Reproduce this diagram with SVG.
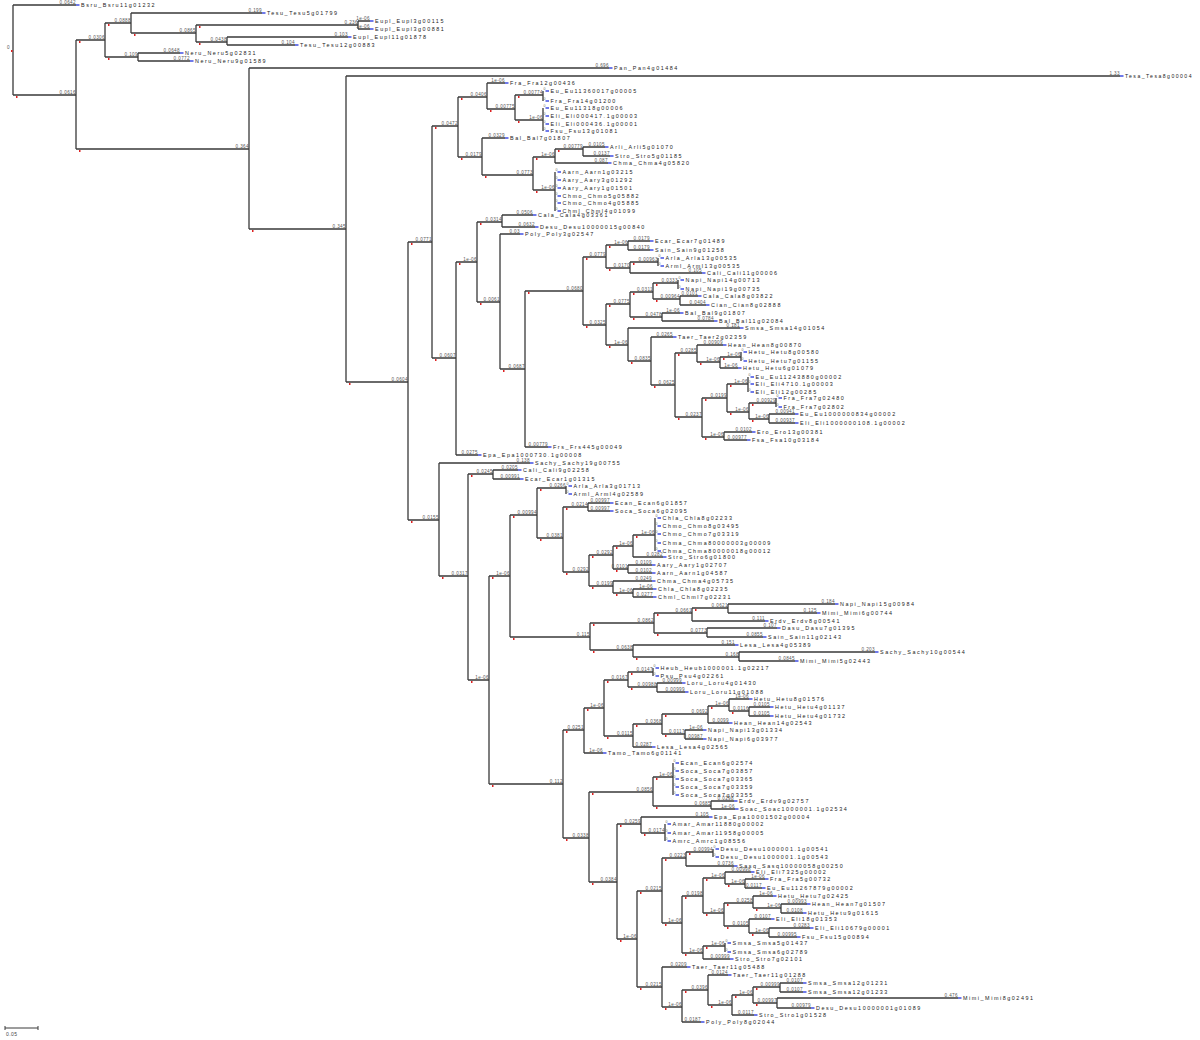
<svg xmlns="http://www.w3.org/2000/svg" xmlns:xlink="http://www.w3.org/1999/xlink" width="1200" height="1040" viewBox="0 0 1200 1040">
<style>
.bl{font-family:"Liberation Sans",Arial,sans-serif;font-size:4.6px;fill:#555;text-anchor:end;letter-spacing:.4px}
.lf{font-family:"Liberation Sans",Arial,sans-serif;font-size:5.4px;fill:#222;letter-spacing:1.55px}
.z{font-family:"Liberation Sans",Arial,sans-serif;font-size:3.5px;fill:#666}
.br{fill:none;stroke:#3a3a3a;stroke-width:1.3}
</style>
<defs>
<rect id="rm" width="1.5" height="2" fill="#d22"/>
<rect id="bm" width="3.5" height="1.3" fill="#2233dd"/>
</defs>
<rect width="1200" height="1040" fill="#fff"/>
<g id="connectors" class="br">
<path d="M13 5V95M13 5H76M13 95H76"/>
<path d="M76 40V149M76 40H105M76 149H249"/>
<path d="M105 23V57M105 23H131M105 57H138"/>
<path d="M131 13V33M131 13H262M131 33H196"/>
<path d="M196 25V42M196 25H358M196 42H227"/>
<path d="M358 21V29M358 21H370M358 29H370"/>
<path d="M227 37V45M227 37H348M227 45H295"/>
<path d="M138 53V61M138 53H180M138 61H190"/>
<path d="M249 68V229M249 68H609M249 229H346"/>
<path d="M346 76V382M346 76H1120M346 382H408"/>
<path d="M408 242V520M408 242H432M408 520H439"/>
<path d="M432 126V358M432 126H458M432 358H456"/>
<path d="M458 97V157M458 97H487M458 157H482"/>
<path d="M487 83V109M487 83H505M487 109H515"/>
<path d="M515 95V120M515 95H543M515 120H543"/>
<path d="M543 91V101M543 108V131"/>
<path d="M482 138V175M482 138H505M482 175H533"/>
<path d="M533 157V190M533 157H555M533 190H555"/>
<path d="M555 149V163M555 149H583M555 163H608"/>
<path d="M583 147V156M583 147H605M583 156H610"/>
<path d="M555 172V211"/>
<path d="M456 262V455M456 262H477M456 455H478"/>
<path d="M477 222V302M477 222H502M477 302H500"/>
<path d="M502 215V227M502 215H533M502 227H535"/>
<path d="M500 234V369M500 234H520M500 369H525"/>
<path d="M525 291V447M525 291H583M525 447H548"/>
<path d="M583 257V325M583 257H606M583 325H606"/>
<path d="M606 245V268M606 245H628M606 268H630"/>
<path d="M628 241V250M628 241H650M628 250H650"/>
<path d="M630 262V273M630 262H658M630 273H702"/>
<path d="M658 258V266"/>
<path d="M606 304V345M606 304H630M606 345H628"/>
<path d="M630 292V317M630 292H653M630 317H662"/>
<path d="M653 283V299M653 283H678M653 299H680"/>
<path d="M678 280V289"/>
<path d="M680 296V305M680 296H698M680 305H706"/>
<path d="M662 313V321M662 313H680M662 321H714"/>
<path d="M628 328V361M628 328H740M628 361H651"/>
<path d="M651 337V385M651 337H673M651 385H675"/>
<path d="M675 353V417M675 353H697M675 417H702"/>
<path d="M697 345V362M697 345H723M697 362H720"/>
<path d="M720 357V368M720 357H741M720 368H738"/>
<path d="M741 352V361"/>
<path d="M702 398V437M702 398H727M702 437H724"/>
<path d="M727 384V412M727 384H748M727 412H749"/>
<path d="M748 377V392"/>
<path d="M749 403V419M749 403H776M749 419H769"/>
<path d="M776 398V407"/>
<path d="M769 414V423M769 414H795M769 423H795"/>
<path d="M724 432V440M724 432H752M724 440H747"/>
<path d="M439 463V576M439 463H530M439 576H468"/>
<path d="M468 474V680M468 474H493M468 680H489"/>
<path d="M493 470V479M493 470H518M493 479H520"/>
<path d="M489 576V784M489 576H510M489 784H563"/>
<path d="M510 515V637M510 515H537M510 637H590"/>
<path d="M537 488V538M537 488H566M537 538H563"/>
<path d="M566 486V494"/>
<path d="M563 507V572M563 507H588M563 572H589"/>
<path d="M588 503V511M588 503H610M588 511H610"/>
<path d="M589 555V586M589 555H613M589 586H613"/>
<path d="M613 546V569M613 546H633M613 569H628"/>
<path d="M633 535V557M633 535H655M633 557H663"/>
<path d="M655 518V551"/>
<path d="M628 565V573M628 565H652M628 573H652"/>
<path d="M613 581V593M613 581H652M613 593H633"/>
<path d="M633 589V597M633 589H653M633 597H653"/>
<path d="M590 623V650M590 623H654M590 650H633"/>
<path d="M654 613V633M654 613H692M654 633H707"/>
<path d="M692 608V621M692 608H728M692 621H765"/>
<path d="M728 604V613M728 604H835M728 613H817"/>
<path d="M707 628V637M707 628H777M707 637H763"/>
<path d="M633 645V657M633 645H735M633 657H739"/>
<path d="M739 652V661M739 652H875M739 661H795"/>
<path d="M563 730V838M563 730H584M563 838H589"/>
<path d="M584 708V753M584 708H604M584 753H603"/>
<path d="M604 680V736M604 680H628M604 736H633"/>
<path d="M628 672V687M628 672H653M628 687H657"/>
<path d="M653 668V676"/>
<path d="M657 683V692M657 683H682M657 692H685"/>
<path d="M633 724V747M633 724H662M633 747H652"/>
<path d="M662 714V734M662 714H708M662 734H685"/>
<path d="M708 706V723M708 706H729M708 723H729"/>
<path d="M729 699V711M729 699H749M729 711H749"/>
<path d="M749 707V716M749 707H770M749 716H770"/>
<path d="M685 730V739M685 730H703M685 739H703"/>
<path d="M589 792V882M589 792H653M589 882H617"/>
<path d="M653 777V806M653 777H673M653 806H711"/>
<path d="M673 763V795"/>
<path d="M711 801V809M711 801H734M711 809H735"/>
<path d="M617 824V939M617 824H641M617 939H637"/>
<path d="M641 817V833M641 817H709M641 833H665"/>
<path d="M665 824V841"/>
<path d="M637 891V987M637 891H662M637 987H662"/>
<path d="M662 858V923M662 858H686M662 923H682"/>
<path d="M686 852V866M686 852H713M686 866H734"/>
<path d="M713 849V857"/>
<path d="M682 896V953M682 896H703M682 953H703"/>
<path d="M703 878V913M703 878H725M703 913H724"/>
<path d="M725 872V884M725 872H751M725 884H745"/>
<path d="M745 879V888M745 879H765M745 888H762"/>
<path d="M724 903V926M724 903H753M724 926H749"/>
<path d="M753 896V908M753 896H773M753 908H781"/>
<path d="M781 904V913M781 904H807M781 913H803"/>
<path d="M749 919V933M749 919H771M749 933H769"/>
<path d="M769 928V937M769 928H810M769 937H797"/>
<path d="M703 946V959M703 946H725M703 959H730"/>
<path d="M725 943V952"/>
<path d="M662 967V1007M662 967H687M662 1007H682"/>
<path d="M682 990V1022M682 990H708M682 1022H701"/>
<path d="M708 975V1005M708 975H728M708 1005H732"/>
<path d="M732 995V1015M732 995H753M732 1015H754"/>
<path d="M753 987V1003M753 987H780M753 1003H777"/>
<path d="M780 983V992M780 983H803M780 992H803"/>
<path d="M777 998V1008M777 998H958M777 1008H811"/>
</g>
<g id="root"><text class="bl" x="10" y="49">0</text><use href="#rm" x="11" y="50"/></g>
<g id="i76"><use href="#rm" x="16" y="96"/><text class="bl" x="76" y="94">0.0616</text></g>
<g id="i105"><use href="#rm" x="79" y="41"/><text class="bl" x="105" y="39">0.0306</text></g>
<g id="i249"><use href="#rm" x="79" y="150"/><text class="bl" x="249" y="148">0.364</text></g>
<g id="i131"><use href="#rm" x="108" y="24"/><text class="bl" x="131" y="22">0.0888</text></g>
<g id="i138"><use href="#rm" x="108" y="58"/><text class="bl" x="138" y="56">0.109</text></g>
<g id="i196"><use href="#rm" x="134" y="34"/><text class="bl" x="196" y="32">0.0865</text></g>
<g id="i358"><use href="#rm" x="199" y="26"/><text class="bl" x="358" y="24">0.236</text></g>
<g id="i227"><use href="#rm" x="199" y="43"/><text class="bl" x="227" y="41">0.0438</text></g>
<g id="i346"><use href="#rm" x="252" y="230"/><text class="bl" x="346" y="228">0.345</text></g>
<g id="i408"><use href="#rm" x="349" y="383"/><text class="bl" x="408" y="381">0.0604</text></g>
<g id="i432"><use href="#rm" x="411" y="243"/><text class="bl" x="432" y="241">0.0771</text></g>
<g id="i439"><use href="#rm" x="411" y="521"/><text class="bl" x="439" y="519">0.0155</text></g>
<g id="i458"><use href="#rm" x="435" y="127"/><text class="bl" x="458" y="125">0.0472</text></g>
<g id="i456"><use href="#rm" x="435" y="359"/><text class="bl" x="456" y="357">0.0607</text></g>
<g id="i487"><use href="#rm" x="461" y="98"/><text class="bl" x="487" y="96">0.0406</text></g>
<g id="i482"><use href="#rm" x="461" y="158"/><text class="bl" x="482" y="156">0.0179</text></g>
<g id="i515"><use href="#rm" x="490" y="110"/><text class="bl" x="515" y="108">0.00775</text></g>
<g id="i543a"><use href="#rm" x="518" y="96"/><text class="bl" x="543" y="94">0.00774</text></g>
<g id="i543b"><use href="#rm" x="518" y="121"/><text class="bl" x="543" y="119">1e-06</text></g>
<g id="i533"><use href="#rm" x="485" y="176"/><text class="bl" x="533" y="174">0.0773</text></g>
<g id="i555a"><use href="#rm" x="536" y="158"/><text class="bl" x="555" y="156">1e-06</text></g>
<g id="i555b"><use href="#rm" x="536" y="191"/><text class="bl" x="555" y="189">1e-06</text></g>
<g id="i583a"><use href="#rm" x="558" y="150"/><text class="bl" x="583" y="148">0.00779</text></g>
<g id="i477"><use href="#rm" x="459" y="263"/><text class="bl" x="477" y="261">1e-06</text></g>
<g id="i502"><use href="#rm" x="480" y="223"/><text class="bl" x="502" y="221">0.0314</text></g>
<g id="i500"><use href="#rm" x="480" y="303"/><text class="bl" x="500" y="301">0.0061</text></g>
<g id="i525"><use href="#rm" x="503" y="370"/><text class="bl" x="525" y="368">0.0687</text></g>
<g id="i583s"><use href="#rm" x="528" y="292"/><text class="bl" x="583" y="290">0.0680</text></g>
<g id="i606t"><use href="#rm" x="586" y="258"/><text class="bl" x="606" y="256">0.0779</text></g>
<g id="i606u"><use href="#rm" x="586" y="326"/><text class="bl" x="606" y="324">0.0325</text></g>
<g id="i628a"><use href="#rm" x="609" y="246"/><text class="bl" x="628" y="244">1e-06</text></g>
<g id="i630a"><use href="#rm" x="609" y="269"/><text class="bl" x="630" y="267">0.0170</text></g>
<g id="i658"><use href="#rm" x="633" y="263"/><text class="bl" x="658" y="261">0.00963</text></g>
<g id="i630v"><use href="#rm" x="609" y="305"/><text class="bl" x="630" y="303">0.0775</text></g>
<g id="i628x"><use href="#rm" x="609" y="346"/><text class="bl" x="628" y="344">1e-06</text></g>
<g id="i653w"><use href="#rm" x="633" y="293"/><text class="bl" x="653" y="291">0.0311</text></g>
<g id="i662a"><use href="#rm" x="633" y="318"/><text class="bl" x="662" y="316">0.0478</text></g>
<g id="i678"><use href="#rm" x="656" y="284"/><text class="bl" x="678" y="282">0.0333</text></g>
<g id="i680"><use href="#rm" x="656" y="300"/><text class="bl" x="680" y="298">0.00964</text></g>
<g id="i651y"><use href="#rm" x="631" y="362"/><text class="bl" x="651" y="360">0.0835</text></g>
<g id="i675z"><use href="#rm" x="654" y="386"/><text class="bl" x="675" y="384">0.0625</text></g>
<g id="i697"><use href="#rm" x="678" y="354"/><text class="bl" x="697" y="352">0.0285</text></g>
<g id="i702aa"><use href="#rm" x="678" y="418"/><text class="bl" x="702" y="416">0.0237</text></g>
<g id="i720"><use href="#rm" x="700" y="363"/><text class="bl" x="720" y="361">1e-06</text></g>
<g id="i741"><use href="#rm" x="723" y="358"/><text class="bl" x="741" y="356">1e-06</text></g>
<g id="i727ab"><use href="#rm" x="705" y="399"/><text class="bl" x="727" y="397">0.0199</text></g>
<g id="i724a"><use href="#rm" x="705" y="438"/><text class="bl" x="724" y="436">1e-06</text></g>
<g id="i748"><use href="#rm" x="730" y="385"/><text class="bl" x="748" y="383">1e-06</text></g>
<g id="i749ac"><use href="#rm" x="730" y="413"/><text class="bl" x="749" y="411">1e-06</text></g>
<g id="i776"><use href="#rm" x="752" y="404"/><text class="bl" x="776" y="402">0.00929</text></g>
<g id="i769a"><use href="#rm" x="752" y="420"/><text class="bl" x="769" y="418">1e-06</text></g>
<g id="i468p"><use href="#rm" x="442" y="577"/><text class="bl" x="468" y="575">0.0317</text></g>
<g id="i493"><use href="#rm" x="471" y="475"/><text class="bl" x="493" y="473">0.0245</text></g>
<g id="i489"><use href="#rm" x="471" y="681"/><text class="bl" x="489" y="679">1e-06</text></g>
<g id="i510"><use href="#rm" x="492" y="577"/><text class="bl" x="510" y="575">1e-06</text></g>
<g id="i563ai"><use href="#rm" x="492" y="785"/><text class="bl" x="563" y="783">0.112</text></g>
<g id="i537"><use href="#rm" x="513" y="516"/><text class="bl" x="537" y="514">0.00994</text></g>
<g id="i590"><use href="#rm" x="513" y="638"/><text class="bl" x="590" y="636">0.115</text></g>
<g id="i566"><use href="#rm" x="540" y="489"/><text class="bl" x="566" y="487">0.0266</text></g>
<g id="i563ad"><use href="#rm" x="540" y="539"/><text class="bl" x="563" y="537">0.0381</text></g>
<g id="i588"><use href="#rm" x="566" y="508"/><text class="bl" x="588" y="506">0.0214</text></g>
<g id="i589ae"><use href="#rm" x="566" y="573"/><text class="bl" x="589" y="571">0.0292</text></g>
<g id="i613af"><use href="#rm" x="592" y="556"/><text class="bl" x="613" y="554">0.0292</text></g>
<g id="i613b"><use href="#rm" x="592" y="587"/><text class="bl" x="613" y="585">0.0199</text></g>
<g id="i633a"><use href="#rm" x="616" y="547"/><text class="bl" x="633" y="545">1e-06</text></g>
<g id="i628b"><use href="#rm" x="616" y="570"/><text class="bl" x="628" y="568">0.0101</text></g>
<g id="i655"><use href="#rm" x="636" y="536"/><text class="bl" x="655" y="534">1e-06</text></g>
<g id="i633b"><use href="#rm" x="616" y="594"/><text class="bl" x="633" y="592">1e-06</text></g>
<g id="i654"><use href="#rm" x="593" y="624"/><text class="bl" x="654" y="622">0.0862</text></g>
<g id="i633ah"><use href="#rm" x="593" y="651"/><text class="bl" x="633" y="649">0.0638</text></g>
<g id="i692"><use href="#rm" x="657" y="614"/><text class="bl" x="692" y="612">0.0661</text></g>
<g id="i707"><use href="#rm" x="657" y="634"/><text class="bl" x="707" y="632">0.0773</text></g>
<g id="i728"><use href="#rm" x="695" y="609"/><text class="bl" x="728" y="607">0.0621</text></g>
<g id="i739"><use href="#rm" x="636" y="658"/><text class="bl" x="739" y="656">0.168</text></g>
<g id="i584"><use href="#rm" x="566" y="731"/><text class="bl" x="584" y="729">0.0251</text></g>
<g id="i589aq"><use href="#rm" x="566" y="839"/><text class="bl" x="589" y="837">0.0338</text></g>
<g id="i604"><use href="#rm" x="587" y="709"/><text class="bl" x="604" y="707">1e-06</text></g>
<g id="i628al"><use href="#rm" x="607" y="681"/><text class="bl" x="628" y="679">0.0167</text></g>
<g id="i633am"><use href="#rm" x="607" y="737"/><text class="bl" x="633" y="735">0.0115</text></g>
<g id="i653c"><use href="#rm" x="631" y="673"/><text class="bl" x="653" y="671">0.0147</text></g>
<g id="i657"><use href="#rm" x="631" y="688"/><text class="bl" x="657" y="686">0.00988</text></g>
<g id="i662an"><use href="#rm" x="636" y="725"/><text class="bl" x="662" y="723">0.0368</text></g>
<g id="i708"><use href="#rm" x="665" y="715"/><text class="bl" x="708" y="713">0.0692</text></g>
<g id="i685"><use href="#rm" x="665" y="735"/><text class="bl" x="685" y="733">0.0117</text></g>
<g id="i729"><use href="#rm" x="711" y="707"/><text class="bl" x="729" y="705">1e-06</text></g>
<g id="i749b"><use href="#rm" x="732" y="712"/><text class="bl" x="749" y="710">0.0116</text></g>
<g id="i653ar"><use href="#rm" x="592" y="793"/><text class="bl" x="653" y="791">0.0856</text></g>
<g id="i617"><use href="#rm" x="592" y="883"/><text class="bl" x="617" y="881">0.0384</text></g>
<g id="i673"><use href="#rm" x="656" y="778"/><text class="bl" x="673" y="776">1e-06</text></g>
<g id="i711"><use href="#rm" x="656" y="807"/><text class="bl" x="711" y="805">0.0685</text></g>
<g id="i641"><use href="#rm" x="620" y="825"/><text class="bl" x="641" y="823">0.0259</text></g>
<g id="i637"><use href="#rm" x="620" y="940"/><text class="bl" x="637" y="938">1e-06</text></g>
<g id="i665"><use href="#rm" x="644" y="834"/><text class="bl" x="665" y="832">0.0174</text></g>
<g id="i662av"><use href="#rm" x="640" y="892"/><text class="bl" x="662" y="890">0.0215</text></g>
<g id="i662bc"><use href="#rm" x="640" y="988"/><text class="bl" x="662" y="986">0.0215</text></g>
<g id="i686"><use href="#rm" x="665" y="859"/><text class="bl" x="686" y="857">0.0223</text></g>
<g id="i682aw"><use href="#rm" x="665" y="924"/><text class="bl" x="682" y="922">1e-06</text></g>
<g id="i713"><use href="#rm" x="689" y="853"/><text class="bl" x="713" y="851">0.00994</text></g>
<g id="i703ax"><use href="#rm" x="685" y="897"/><text class="bl" x="703" y="895">0.0198</text></g>
<g id="i703bb"><use href="#rm" x="685" y="954"/><text class="bl" x="703" y="952">1e-06</text></g>
<g id="i725a"><use href="#rm" x="706" y="879"/><text class="bl" x="725" y="877">1e-06</text></g>
<g id="i745"><use href="#rm" x="728" y="885"/><text class="bl" x="745" y="883">1e-06</text></g>
<g id="i724ay"><use href="#rm" x="706" y="914"/><text class="bl" x="724" y="912">1e-06</text></g>
<g id="i753az"><use href="#rm" x="727" y="904"/><text class="bl" x="753" y="902">0.0258</text></g>
<g id="i781"><use href="#rm" x="756" y="909"/><text class="bl" x="781" y="907">1e-06</text></g>
<g id="i749ba"><use href="#rm" x="727" y="927"/><text class="bl" x="749" y="925">0.0105</text></g>
<g id="i769b"><use href="#rm" x="752" y="934"/><text class="bl" x="769" y="932">1e-06</text></g>
<g id="i725b"><use href="#rm" x="706" y="947"/><text class="bl" x="725" y="945">1e-06</text></g>
<g id="i682bd"><use href="#rm" x="665" y="1008"/><text class="bl" x="682" y="1006">1e-06</text></g>
<g id="i708be"><use href="#rm" x="685" y="991"/><text class="bl" x="708" y="989">0.0396</text></g>
<g id="i732"><use href="#rm" x="711" y="1006"/><text class="bl" x="732" y="1004">1e-06</text></g>
<g id="i753bg"><use href="#rm" x="735" y="996"/><text class="bl" x="753" y="994">1e-06</text></g>
<g id="i780"><use href="#rm" x="756" y="988"/><text class="bl" x="780" y="986">0.00999</text></g>
<g id="i777"><use href="#rm" x="756" y="1004"/><text class="bl" x="777" y="1002">0.00997</text></g>
<g id="L1"><text class="bl" x="76" y="4">0.0642</text><use href="#bm" x="76" y="4.35"/><text class="lf" x="81" y="7">Bsru_Bsru11g01232</text></g>
<g id="L2"><text class="bl" x="262" y="12">0.199</text><use href="#bm" x="262" y="12.35"/><text class="lf" x="267" y="15">Tesu_Tesu5g01799</text></g>
<g id="L3"><text class="bl" x="370" y="20">1e-06</text><use href="#bm" x="370" y="20.35"/><text class="lf" x="375" y="23">Eupl_Eupl3g00115</text></g>
<g id="L4"><text class="bl" x="370" y="28">1e-06</text><use href="#bm" x="370" y="28.35"/><text class="lf" x="375" y="31">Eupl_Eupl3g00881</text></g>
<g id="L5"><text class="bl" x="348" y="36">0.103</text><use href="#bm" x="348" y="36.35"/><text class="lf" x="353" y="39">Eupl_Eupl11g01878</text></g>
<g id="L6"><text class="bl" x="295" y="44">0.104</text><use href="#bm" x="295" y="44.35"/><text class="lf" x="300" y="47">Tesu_Tesu12g00883</text></g>
<g id="L7"><text class="bl" x="180" y="52">0.0648</text><use href="#bm" x="180" y="52.35"/><text class="lf" x="185" y="55">Neru_Neru5g02831</text></g>
<g id="L8"><text class="bl" x="190" y="60">0.0772</text><use href="#bm" x="190" y="60.35"/><text class="lf" x="195" y="63">Neru_Neru9g01589</text></g>
<g id="L9"><text class="bl" x="609" y="67">0.696</text><use href="#bm" x="609" y="67.35"/><text class="lf" x="614" y="70">Pan_Pan4g01484</text></g>
<g id="L10"><text class="bl" x="1120" y="75">1.33</text><use href="#bm" x="1120" y="75.35"/><text class="lf" x="1125" y="78" textLength="68" lengthAdjust="spacingAndGlyphs">Tesa_Tesa8g00004</text></g>
<g id="L11"><text class="bl" x="505" y="82">1e-06</text><use href="#bm" x="505" y="82.35"/><text class="lf" x="510" y="85">Fra_Fra12g00436</text></g>
<g id="L12"><text class="z" x="543.5" y="90.2">0</text><use href="#bm" x="545.5" y="90.35"/><text class="lf" x="550.5" y="93">Eu_Eu11360017g00005</text></g>
<g id="L13"><text class="z" x="543.5" y="100.2">0</text><use href="#bm" x="545.5" y="100.35"/><text class="lf" x="550.5" y="103">Fra_Fra14g01200</text></g>
<g id="L14"><text class="z" x="543.5" y="107.2">0</text><use href="#bm" x="545.5" y="107.35"/><text class="lf" x="550.5" y="110">Eu_Eu11318g00006</text></g>
<g id="L15"><text class="z" x="543.5" y="115.2">0</text><use href="#bm" x="545.5" y="115.35"/><text class="lf" x="550.5" y="118">Eli_Eli000417.1g00003</text></g>
<g id="L16"><text class="z" x="543.5" y="123.2">0</text><use href="#bm" x="545.5" y="123.35"/><text class="lf" x="550.5" y="126">Eli_Eli000436.1g00001</text></g>
<g id="L17"><text class="z" x="543.5" y="130.2">0</text><use href="#bm" x="545.5" y="130.35"/><text class="lf" x="550.5" y="133">Fsu_Fsu13g01081</text></g>
<g id="L18"><text class="bl" x="505" y="137">0.0329</text><use href="#bm" x="505" y="137.35"/><text class="lf" x="510" y="140">Bal_Bal7g01807</text></g>
<g id="L19"><text class="bl" x="605" y="146">0.0105</text><use href="#bm" x="605" y="146.35"/><text class="lf" x="610" y="149">Arli_Arli5g01070</text></g>
<g id="L20"><text class="bl" x="610" y="155">0.0137</text><use href="#bm" x="610" y="155.35"/><text class="lf" x="615" y="158">Stro_Stro5g01185</text></g>
<g id="L21"><text class="bl" x="608" y="162">0.087</text><use href="#bm" x="608" y="162.35"/><text class="lf" x="613" y="165">Chma_Chma4g05820</text></g>
<g id="L22"><text class="z" x="555.5" y="171.2">0</text><use href="#bm" x="557.5" y="171.35"/><text class="lf" x="562.5" y="174">Aarn_Aarn1g03215</text></g>
<g id="L23"><text class="z" x="555.5" y="179.2">0</text><use href="#bm" x="557.5" y="179.35"/><text class="lf" x="562.5" y="182">Aary_Aary3g01292</text></g>
<g id="L24"><text class="z" x="555.5" y="187.2">0</text><use href="#bm" x="557.5" y="187.35"/><text class="lf" x="562.5" y="190">Aary_Aary1g01501</text></g>
<g id="L25"><text class="z" x="555.5" y="195.2">0</text><use href="#bm" x="557.5" y="195.35"/><text class="lf" x="562.5" y="198">Chmo_Chmo5g05882</text></g>
<g id="L26"><text class="z" x="555.5" y="202.2">0</text><use href="#bm" x="557.5" y="202.35"/><text class="lf" x="562.5" y="205">Chmo_Chmo4g05885</text></g>
<g id="L27"><text class="z" x="555.5" y="210.2">0</text><use href="#bm" x="557.5" y="210.35"/><text class="lf" x="562.5" y="213">Chml_Chml4g01099</text></g>
<g id="L28"><text class="bl" x="533" y="214">0.0506</text><use href="#bm" x="533" y="214.35"/><text class="lf" x="538" y="217">Cala_Cala4g03361</text></g>
<g id="L29"><text class="bl" x="535" y="226">0.0632</text><use href="#bm" x="535" y="226.35"/><text class="lf" x="540" y="229">Desu_Desu10000015g00840</text></g>
<g id="L30"><text class="bl" x="520" y="233">0.03</text><use href="#bm" x="520" y="233.35"/><text class="lf" x="525" y="236">Poly_Poly3g02547</text></g>
<g id="L31"><text class="bl" x="650" y="240">0.0179</text><use href="#bm" x="650" y="240.35"/><text class="lf" x="655" y="243">Ecar_Ecar7g01489</text></g>
<g id="L32"><text class="bl" x="650" y="249">0.0179</text><use href="#bm" x="650" y="249.35"/><text class="lf" x="655" y="252">Sain_Sain9g01258</text></g>
<g id="L33"><text class="z" x="658.5" y="257.2">0</text><use href="#bm" x="660.5" y="257.35"/><text class="lf" x="665.5" y="260">Arla_Arla13g00535</text></g>
<g id="L34"><text class="z" x="658.5" y="265.2">0</text><use href="#bm" x="660.5" y="265.35"/><text class="lf" x="665.5" y="268">Arml_Arml13g00535</text></g>
<g id="L35"><text class="bl" x="702" y="272">0.105</text><use href="#bm" x="702" y="272.35"/><text class="lf" x="707" y="275">Cali_Cali11g00006</text></g>
<g id="L36"><text class="z" x="678.5" y="279.2">0</text><use href="#bm" x="680.5" y="279.35"/><text class="lf" x="685.5" y="282">Napi_Napi14g00713</text></g>
<g id="L37"><text class="z" x="678.5" y="288.2">0</text><use href="#bm" x="680.5" y="288.35"/><text class="lf" x="685.5" y="291">Napi_Napi19g00735</text></g>
<g id="L38"><text class="bl" x="698" y="295">0.0101</text><use href="#bm" x="698" y="295.35"/><text class="lf" x="703" y="298">Cala_Cala8g03822</text></g>
<g id="L39"><text class="bl" x="706" y="304">0.0404</text><use href="#bm" x="706" y="304.35"/><text class="lf" x="711" y="307">Cian_Cian8g02888</text></g>
<g id="L40"><text class="bl" x="680" y="312">1e-06</text><use href="#bm" x="680" y="312.35"/><text class="lf" x="685" y="315">Bal_Bal9g01807</text></g>
<g id="L41"><text class="bl" x="714" y="320">0.0784</text><use href="#bm" x="714" y="320.35"/><text class="lf" x="719" y="323">Bal_Bal11g02084</text></g>
<g id="L42"><text class="bl" x="740" y="327">0.181</text><use href="#bm" x="740" y="327.35"/><text class="lf" x="745" y="330">Smsa_Smsa14g01054</text></g>
<g id="L43"><text class="bl" x="673" y="336">0.0265</text><use href="#bm" x="673" y="336.35"/><text class="lf" x="678" y="339">Taer_Taer2g02359</text></g>
<g id="L44"><text class="bl" x="723" y="344">0.00909</text><use href="#bm" x="723" y="344.35"/><text class="lf" x="728" y="347">Hean_Hean8g00870</text></g>
<g id="L45"><text class="z" x="741.5" y="351.2">0</text><use href="#bm" x="743.5" y="351.35"/><text class="lf" x="748.5" y="354">Hetu_Hetu8g00580</text></g>
<g id="L46"><text class="z" x="741.5" y="360.2">0</text><use href="#bm" x="743.5" y="360.35"/><text class="lf" x="748.5" y="363">Hetu_Hetu7g01155</text></g>
<g id="L47"><text class="bl" x="738" y="367">1e-06</text><use href="#bm" x="738" y="367.35"/><text class="lf" x="743" y="370">Hetu_Hetu6g01079</text></g>
<g id="L48"><text class="z" x="748.5" y="376.2">0</text><use href="#bm" x="750.5" y="376.35"/><text class="lf" x="755.5" y="379">Eu_Eu11243880g00002</text></g>
<g id="L49"><text class="z" x="748.5" y="383.2">0</text><use href="#bm" x="750.5" y="383.35"/><text class="lf" x="755.5" y="386">Eli_Eli4710.1g00003</text></g>
<g id="L50"><text class="z" x="748.5" y="391.2">0</text><use href="#bm" x="750.5" y="391.35"/><text class="lf" x="755.5" y="394">Eli_Eli12g00285</text></g>
<g id="L51"><text class="z" x="776.5" y="397.2">0</text><use href="#bm" x="778.5" y="397.35"/><text class="lf" x="783.5" y="400">Fra_Fra7g02480</text></g>
<g id="L52"><text class="z" x="776.5" y="406.2">0</text><use href="#bm" x="778.5" y="406.35"/><text class="lf" x="783.5" y="409">Fra_Fra7g02802</text></g>
<g id="L53"><text class="bl" x="795" y="413">0.00941</text><use href="#bm" x="795" y="413.35"/><text class="lf" x="800" y="416">Eu_Eu1000000834g00002</text></g>
<g id="L54"><text class="bl" x="795" y="422">0.00937</text><use href="#bm" x="795" y="422.35"/><text class="lf" x="800" y="425">Eli_Eli1000000108.1g00002</text></g>
<g id="L55"><text class="bl" x="752" y="431">0.0102</text><use href="#bm" x="752" y="431.35"/><text class="lf" x="757" y="434">Ero_Ero13g00381</text></g>
<g id="L56"><text class="bl" x="747" y="439">0.00977</text><use href="#bm" x="747" y="439.35"/><text class="lf" x="752" y="442">Fsa_Fsa10g03184</text></g>
<g id="L57"><text class="bl" x="548" y="446">0.00779</text><use href="#bm" x="548" y="446.35"/><text class="lf" x="553" y="449">Frs_Frs445g00049</text></g>
<g id="L58"><text class="bl" x="478" y="454">0.0275</text><use href="#bm" x="478" y="454.35"/><text class="lf" x="483" y="457">Epa_Epa1000730.1g00008</text></g>
<g id="L59"><text class="bl" x="530" y="462">0.138</text><use href="#bm" x="530" y="462.35"/><text class="lf" x="535" y="465">Sachy_Sachy19g00755</text></g>
<g id="L60"><text class="bl" x="518" y="469">0.0205</text><use href="#bm" x="518" y="469.35"/><text class="lf" x="523" y="472">Cali_Cali9g02258</text></g>
<g id="L61"><text class="bl" x="520" y="478">0.00991</text><use href="#bm" x="520" y="478.35"/><text class="lf" x="525" y="481">Ecar_Ecar1g01315</text></g>
<g id="L62"><text class="z" x="566.5" y="485.2">0</text><use href="#bm" x="568.5" y="485.35"/><text class="lf" x="573.5" y="488">Arla_Arla3g01713</text></g>
<g id="L63"><text class="z" x="566.5" y="493.2">0</text><use href="#bm" x="568.5" y="493.35"/><text class="lf" x="573.5" y="496">Arml_Arml4g02589</text></g>
<g id="L64"><text class="bl" x="610" y="502">0.00997</text><use href="#bm" x="610" y="502.35"/><text class="lf" x="615" y="505">Ecan_Ecan6g01857</text></g>
<g id="L65"><text class="bl" x="610" y="510">0.00997</text><use href="#bm" x="610" y="510.35"/><text class="lf" x="615" y="513">Soca_Soca6g02095</text></g>
<g id="L66"><text class="z" x="655.5" y="517.2">0</text><use href="#bm" x="657.5" y="517.35"/><text class="lf" x="662.5" y="520">Chla_Chla8g02233</text></g>
<g id="L67"><text class="z" x="655.5" y="525.2">0</text><use href="#bm" x="657.5" y="525.35"/><text class="lf" x="662.5" y="528">Chmo_Chmo8g03495</text></g>
<g id="L68"><text class="z" x="655.5" y="533.2">0</text><use href="#bm" x="657.5" y="533.35"/><text class="lf" x="662.5" y="536">Chmo_Chmo7g03319</text></g>
<g id="L69"><text class="z" x="655.5" y="542.2">0</text><use href="#bm" x="657.5" y="542.35"/><text class="lf" x="662.5" y="545">Chma_Chma80000003g00009</text></g>
<g id="L70"><text class="z" x="655.5" y="550.2">0</text><use href="#bm" x="657.5" y="550.35"/><text class="lf" x="662.5" y="553">Chma_Chma80000018g00012</text></g>
<g id="L71"><text class="bl" x="663" y="556">0.0282</text><use href="#bm" x="663" y="556.35"/><text class="lf" x="668" y="559">Stro_Stro6g01800</text></g>
<g id="L72"><text class="bl" x="652" y="564">0.0109</text><use href="#bm" x="652" y="564.35"/><text class="lf" x="657" y="567">Aary_Aary1g02707</text></g>
<g id="L73"><text class="bl" x="652" y="572">0.0102</text><use href="#bm" x="652" y="572.35"/><text class="lf" x="657" y="575">Aarn_Aarn1g04587</text></g>
<g id="L74"><text class="bl" x="652" y="580">0.0249</text><use href="#bm" x="652" y="580.35"/><text class="lf" x="657" y="583">Chma_Chma4g05735</text></g>
<g id="L75"><text class="bl" x="653" y="588">1e-06</text><use href="#bm" x="653" y="588.35"/><text class="lf" x="658" y="591">Chla_Chla8g02235</text></g>
<g id="L76"><text class="bl" x="653" y="596">0.0277</text><use href="#bm" x="653" y="596.35"/><text class="lf" x="658" y="599">Chml_Chml7g02231</text></g>
<g id="L77"><text class="bl" x="835" y="603">0.184</text><use href="#bm" x="835" y="603.35"/><text class="lf" x="840" y="606">Napi_Napi15g00984</text></g>
<g id="L78"><text class="bl" x="817" y="612">0.125</text><use href="#bm" x="817" y="612.35"/><text class="lf" x="822" y="615">Mimi_Mimi6g00744</text></g>
<g id="L79"><text class="bl" x="765" y="620">0.111</text><use href="#bm" x="765" y="620.35"/><text class="lf" x="770" y="623">Erdv_Erdv8g00541</text></g>
<g id="L80"><text class="bl" x="777" y="627">0.107</text><use href="#bm" x="777" y="627.35"/><text class="lf" x="782" y="630">Dasu_Dasu7g01395</text></g>
<g id="L81"><text class="bl" x="763" y="636">0.0855</text><use href="#bm" x="763" y="636.35"/><text class="lf" x="768" y="639">Sain_Sain11g02143</text></g>
<g id="L82"><text class="bl" x="735" y="644">0.151</text><use href="#bm" x="735" y="644.35"/><text class="lf" x="740" y="647">Lesa_Lesa4g05389</text></g>
<g id="L83"><text class="bl" x="875" y="651">0.203</text><use href="#bm" x="875" y="651.35"/><text class="lf" x="880" y="654">Sachy_Sachy10g00544</text></g>
<g id="L84"><text class="bl" x="795" y="660">0.0845</text><use href="#bm" x="795" y="660.35"/><text class="lf" x="800" y="663">Mimi_Mimi5g02443</text></g>
<g id="L85"><text class="z" x="653.5" y="667.2">0</text><use href="#bm" x="655.5" y="667.35"/><text class="lf" x="660.5" y="670">Heub_Heub1000001.1g02217</text></g>
<g id="L86"><text class="z" x="653.5" y="675.2">0</text><use href="#bm" x="655.5" y="675.35"/><text class="lf" x="660.5" y="678">Psu_Psu4g02261</text></g>
<g id="L87"><text class="bl" x="682" y="682">0.00999</text><use href="#bm" x="682" y="682.35"/><text class="lf" x="687" y="685">Loru_Loru4g01430</text></g>
<g id="L88"><text class="bl" x="685" y="691">0.00999</text><use href="#bm" x="685" y="691.35"/><text class="lf" x="690" y="694">Loru_Loru11g01088</text></g>
<g id="L89"><text class="bl" x="749" y="698">1e-06</text><use href="#bm" x="749" y="698.35"/><text class="lf" x="754" y="701">Hetu_Hetu8g01576</text></g>
<g id="L90"><text class="bl" x="770" y="706">0.0105</text><use href="#bm" x="770" y="706.35"/><text class="lf" x="775" y="709">Hetu_Hetu4g01137</text></g>
<g id="L91"><text class="bl" x="770" y="715">0.0105</text><use href="#bm" x="770" y="715.35"/><text class="lf" x="775" y="718">Hetu_Hetu4g01732</text></g>
<g id="L92"><text class="bl" x="729" y="722">0.0099</text><use href="#bm" x="729" y="722.35"/><text class="lf" x="734" y="725">Hean_Hean14g02543</text></g>
<g id="L93"><text class="bl" x="703" y="729">1e-06</text><use href="#bm" x="703" y="729.35"/><text class="lf" x="708" y="732">Napi_Napi13g01334</text></g>
<g id="L94"><text class="bl" x="703" y="738">0.00987</text><use href="#bm" x="703" y="738.35"/><text class="lf" x="708" y="741">Napi_Napi6g03977</text></g>
<g id="L95"><text class="bl" x="652" y="746">0.0287</text><use href="#bm" x="652" y="746.35"/><text class="lf" x="657" y="749">Lesa_Lesa4g02565</text></g>
<g id="L96"><text class="bl" x="603" y="752">1e-06</text><use href="#bm" x="603" y="752.35"/><text class="lf" x="608" y="755">Tamo_Tamo6g01141</text></g>
<g id="L97"><text class="z" x="673.5" y="762.2">0</text><use href="#bm" x="675.5" y="762.35"/><text class="lf" x="680.5" y="765">Ecan_Ecan6g02574</text></g>
<g id="L98"><text class="z" x="673.5" y="770.2">0</text><use href="#bm" x="675.5" y="770.35"/><text class="lf" x="680.5" y="773">Soca_Soca7g03857</text></g>
<g id="L99"><text class="z" x="673.5" y="778.2">0</text><use href="#bm" x="675.5" y="778.35"/><text class="lf" x="680.5" y="781">Soca_Soca7g03365</text></g>
<g id="L100"><text class="z" x="673.5" y="786.2">0</text><use href="#bm" x="675.5" y="786.35"/><text class="lf" x="680.5" y="789">Soca_Soca7g03359</text></g>
<g id="L101"><text class="z" x="673.5" y="794.2">0</text><use href="#bm" x="675.5" y="794.35"/><text class="lf" x="680.5" y="797">Soca_Soca7g03355</text></g>
<g id="L102"><text class="bl" x="734" y="800">0.0298</text><use href="#bm" x="734" y="800.35"/><text class="lf" x="739" y="803">Erdv_Erdv9g02757</text></g>
<g id="L103"><text class="bl" x="735" y="808">1e-06</text><use href="#bm" x="735" y="808.35"/><text class="lf" x="740" y="811">Soac_Soac1000001.1g02534</text></g>
<g id="L104"><text class="bl" x="709" y="816">0.105</text><use href="#bm" x="709" y="816.35"/><text class="lf" x="714" y="819">Epa_Epa10001502g00004</text></g>
<g id="L105"><text class="z" x="665.5" y="823.2">0</text><use href="#bm" x="667.5" y="823.35"/><text class="lf" x="672.5" y="826">Amar_Amar11880g00002</text></g>
<g id="L106"><text class="z" x="665.5" y="832.2">0</text><use href="#bm" x="667.5" y="832.35"/><text class="lf" x="672.5" y="835">Amar_Amar11958g00005</text></g>
<g id="L107"><text class="z" x="665.5" y="840.2">0</text><use href="#bm" x="667.5" y="840.35"/><text class="lf" x="672.5" y="843">Amrc_Amrc1g08556</text></g>
<g id="L108"><text class="z" x="713.5" y="848.2">0</text><use href="#bm" x="715.5" y="848.35"/><text class="lf" x="720.5" y="851">Desu_Desu1000001.1g00541</text></g>
<g id="L109"><text class="z" x="713.5" y="856.2">0</text><use href="#bm" x="715.5" y="856.35"/><text class="lf" x="720.5" y="859">Desu_Desu1000001.1g00543</text></g>
<g id="L110"><text class="bl" x="734" y="865">0.0736</text><use href="#bm" x="734" y="865.35"/><text class="lf" x="739" y="868">Sasq_Sasq10000058g00250</text></g>
<g id="L111"><text class="bl" x="751" y="871">0.00998</text><use href="#bm" x="751" y="871.35"/><text class="lf" x="756" y="874">Eli_Eli7325g00002</text></g>
<g id="L112"><text class="bl" x="765" y="878">1e-06</text><use href="#bm" x="765" y="878.35"/><text class="lf" x="770" y="881">Fra_Fra5g00732</text></g>
<g id="L113"><text class="bl" x="762" y="887">0.0117</text><use href="#bm" x="762" y="887.35"/><text class="lf" x="767" y="890">Eu_Eu11267879g00002</text></g>
<g id="L114"><text class="bl" x="773" y="895">1e-06</text><use href="#bm" x="773" y="895.35"/><text class="lf" x="778" y="898">Hetu_Hetu7g02425</text></g>
<g id="L115"><text class="bl" x="807" y="903">0.00993</text><use href="#bm" x="807" y="903.35"/><text class="lf" x="812" y="906">Hean_Hean7g01507</text></g>
<g id="L116"><text class="bl" x="803" y="912">0.0108</text><use href="#bm" x="803" y="912.35"/><text class="lf" x="808" y="915">Hetu_Hetu9g01615</text></g>
<g id="L117"><text class="bl" x="771" y="918">0.0107</text><use href="#bm" x="771" y="918.35"/><text class="lf" x="776" y="921">Eli_Eli18g01353</text></g>
<g id="L118"><text class="bl" x="810" y="927">0.0283</text><use href="#bm" x="810" y="927.35"/><text class="lf" x="815" y="930">Eli_Eli10679g00001</text></g>
<g id="L119"><text class="bl" x="797" y="936">0.00995</text><use href="#bm" x="797" y="936.35"/><text class="lf" x="802" y="939">Fsu_Fsu15g00894</text></g>
<g id="L120"><text class="z" x="725.5" y="942.2">0</text><use href="#bm" x="727.5" y="942.35"/><text class="lf" x="732.5" y="945">Smsa_Smsa5g01437</text></g>
<g id="L121"><text class="z" x="725.5" y="951.2">0</text><use href="#bm" x="727.5" y="951.35"/><text class="lf" x="732.5" y="954">Smsa_Smsa6g02789</text></g>
<g id="L122"><text class="bl" x="730" y="958">0.00999</text><use href="#bm" x="730" y="958.35"/><text class="lf" x="735" y="961">Stro_Stro7g02101</text></g>
<g id="L123"><text class="bl" x="687" y="966">0.0209</text><use href="#bm" x="687" y="966.35"/><text class="lf" x="692" y="969">Taer_Taer11g05488</text></g>
<g id="L124"><text class="bl" x="728" y="974">0.0124</text><use href="#bm" x="728" y="974.35"/><text class="lf" x="733" y="977">Taer_Taer11g01288</text></g>
<g id="L125"><text class="bl" x="803" y="982">0.0107</text><use href="#bm" x="803" y="982.35"/><text class="lf" x="808" y="985">Smsa_Smsa12g01231</text></g>
<g id="L126"><text class="bl" x="803" y="991">0.0107</text><use href="#bm" x="803" y="991.35"/><text class="lf" x="808" y="994">Smsa_Smsa12g01233</text></g>
<g id="L127"><text class="bl" x="958" y="997">0.476</text><use href="#bm" x="958" y="997.35"/><text class="lf" x="963" y="1000">Mimi_Mimi8g02491</text></g>
<g id="L128"><text class="bl" x="811" y="1007">0.00979</text><use href="#bm" x="811" y="1007.35"/><text class="lf" x="816" y="1010">Desu_Desu10000001g01089</text></g>
<g id="L129"><text class="bl" x="754" y="1014">0.0117</text><use href="#bm" x="754" y="1014.35"/><text class="lf" x="759" y="1017">Stro_Stro1g01528</text></g>
<g id="L130"><text class="bl" x="701" y="1021">0.0187</text><use href="#bm" x="701" y="1021.35"/><text class="lf" x="706" y="1024">Poly_Poly8g02044</text></g>
<g id="scale"><path d="M5 1028H38M5 1026V1030M38 1026V1030" fill="none" stroke="#3a3a3a" stroke-width="1"/><text x="6" y="1036" style="font-family:'Liberation Sans',Arial,sans-serif;font-size:5px;fill:#444;letter-spacing:.4px">0.05</text></g>
</svg>
